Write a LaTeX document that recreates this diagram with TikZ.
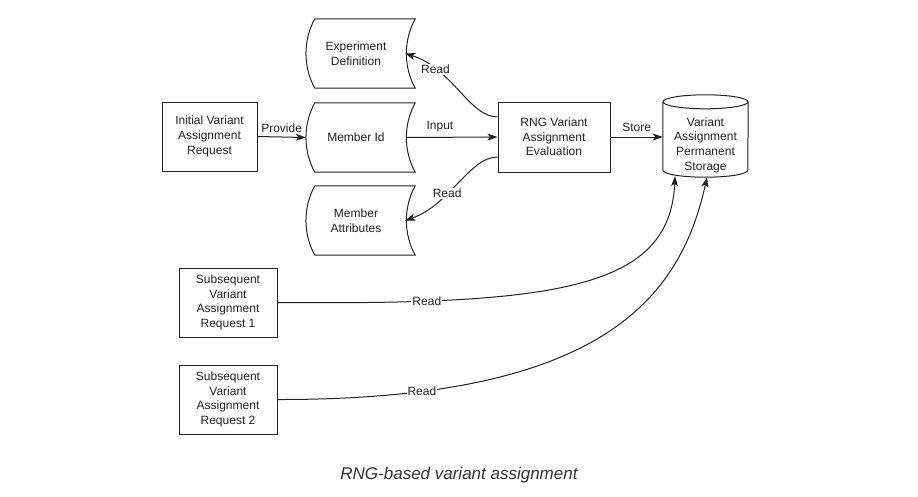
\documentclass[tikz,border=0pt]{standalone}
\usepackage{fontspec}
\setmainfont{Liberation Sans}
\usetikzlibrary{arrows.meta,calc}
\definecolor{ink}{HTML}{222222}
\definecolor{capcol}{HTML}{333333}
\newcommand\storedshape[1]{%
  \draw[shapeline] ($(#1.north west)+(9,0)$) -- ($(#1.north east)+(9,0)$)
    .. controls ($(#1.north east)+(-2.8,21.3)$) and ($(#1.south east)+(-2.8,-21.3)$) .. ($(#1.south east)+(9,0)$)
    -- ($(#1.south west)+(9,0)$)
    .. controls ($(#1.south west)+(-2.8,-21.3)$) and ($(#1.north west)+(-2.8,21.3)$) .. cycle;}
\begin{document}
\begin{tikzpicture}[x=1pt,y=-1pt,
  every node/.style={font=\fontsize{12}{14.7}\selectfont, text=ink, align=center, inner sep=0pt},
  shapeline/.style={draw=ink, line width=1pt},
  procbox/.style={draw=ink, line width=1pt, minimum height=69pt},
  stored/.style={minimum width=100pt, minimum height=69pt},
  conn/.style={draw=ink, line width=1pt, -{Stealth[length=10pt,width=7pt,inset=2.5pt]}},
  lbl/.style={fill=white, inner sep=1pt}]
\useasboundingbox (0,0) rectangle (918,496);
\fill[white] (0,0) rectangle (918,496);

% nodes
\node[procbox, minimum width=95pt] (init) at (209.5,136.5) {Initial Variant\\Assignment\\Request};
\node[stored] (ed) at (356,53.5) {Experiment\\Definition};
\node[stored] (mid) at (356,137.5) {Member Id};
\node[stored] (ma) at (356,220.5) {Member\\Attributes};
\storedshape{ed}
\storedshape{mid}
\storedshape{ma}
\node[procbox, minimum width=112pt, minimum height=70pt] (rng) at (554,137) {RNG Variant\\Assignment\\Evaluation};
\node[minimum width=85pt, minimum height=64pt] (cyl) at (705.5,145) {Variant\\Assignment\\Permanent\\Storage};
\draw[shapeline] ($(cyl.north)+(0,-11)$) ellipse [x radius=42.5pt, y radius=7pt];
\draw[shapeline] ($(cyl.south west)+(0,-75)$) -- ($(cyl.south west)+(0,-7)$)
  arc [start angle=180, end angle=360, x radius=42.5pt, y radius=7pt]
  -- ($(cyl.south east)+(0,-75)$);
\node[procbox, minimum width=98pt] (sub1) at (228,302.5) {Subsequent\\Variant\\Assignment\\Request 1};
\node[procbox, minimum width=98pt] (sub2) at (228,399.5) {Subsequent\\Variant\\Assignment\\Request 2};

% connectors
\draw[conn] (init.east) -- node[above=4pt] {Provide} (mid.west);
\draw[conn] (mid.east) -- node[pos=0.37, above=5pt] {Input} (rng.west);
\draw[conn] (rng.east) -- node[above=5pt] {Store} (rng.east -| cyl.west);
\draw[conn] ($(rng.west)+(0,-20)$) .. controls +(-28,0) and (452,68) .. node[lbl, pos=0.75] {Read} ($(ed.east)+(-1,0)$);
\draw[conn] ($(rng.west)+(0,20)$) .. controls +(-28,0) and (450,205) .. node[lbl, pos=0.62] {Read} ($(ma.east)+(-1,0)$);
\draw[conn] (sub1.east) .. controls (560,305) and (670,288) .. node[lbl, pos=0.2] {Read} ($(cyl.south)+(-30.5,-1)$);
\draw[conn] (sub2.east) .. controls (600,400) and (680,300) .. node[lbl, pos=0.17] {Read} ($(cyl.south)+(1.5,0)$);

\node[font=\fontsize{17}{20}\selectfont\itshape, text=capcol] (caption) at (459,475) {RNG-based variant assignment};
\end{tikzpicture}
\end{document}
